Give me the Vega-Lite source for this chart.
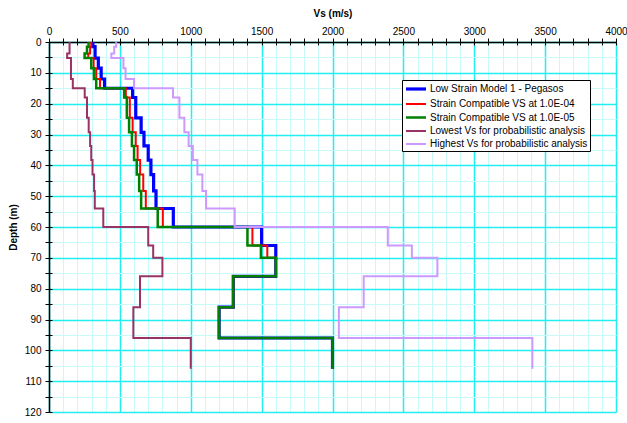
{
  "$schema": "https://vega.github.io/schema/vega-lite/v6.json",
  "width": 567,
  "height": 370,
  "autosize": {"type": "none"},
  "padding": {"left": 49, "top": 42, "right": 11, "bottom": 11},
  "background": "white",
  "config": {"view": {"stroke": null}, "font": "Liberation Sans"},
  "data": {
    "values": [
      {"profile": "Low Strain Model 1 - Pegasos", "depth": 0, "vs": 310},
      {"profile": "Low Strain Model 1 - Pegasos", "depth": 1.5, "vs": 325},
      {"profile": "Low Strain Model 1 - Pegasos", "depth": 5.2, "vs": 348},
      {"profile": "Low Strain Model 1 - Pegasos", "depth": 8.5, "vs": 368},
      {"profile": "Low Strain Model 1 - Pegasos", "depth": 12, "vs": 392},
      {"profile": "Low Strain Model 1 - Pegasos", "depth": 15, "vs": 590},
      {"profile": "Low Strain Model 1 - Pegasos", "depth": 18, "vs": 612},
      {"profile": "Low Strain Model 1 - Pegasos", "depth": 24.6, "vs": 650},
      {"profile": "Low Strain Model 1 - Pegasos", "depth": 29.3, "vs": 670},
      {"profile": "Low Strain Model 1 - Pegasos", "depth": 33.7, "vs": 700},
      {"profile": "Low Strain Model 1 - Pegasos", "depth": 38.3, "vs": 719},
      {"profile": "Low Strain Model 1 - Pegasos", "depth": 43, "vs": 738},
      {"profile": "Low Strain Model 1 - Pegasos", "depth": 48.3, "vs": 755},
      {"profile": "Low Strain Model 1 - Pegasos", "depth": 54, "vs": 877},
      {"profile": "Low Strain Model 1 - Pegasos", "depth": 60, "vs": 1500},
      {"profile": "Low Strain Model 1 - Pegasos", "depth": 66, "vs": 1600},
      {"profile": "Low Strain Model 1 - Pegasos", "depth": 76, "vs": 1300},
      {"profile": "Low Strain Model 1 - Pegasos", "depth": 86, "vs": 1200},
      {"profile": "Low Strain Model 1 - Pegasos", "depth": 96, "vs": 2000},
      {"profile": "Low Strain Model 1 - Pegasos", "depth": 106, "vs": 2000},

      {"profile": "Strain Compatible VS at 1.0E-04", "depth": 0, "vs": 298},
      {"profile": "Strain Compatible VS at 1.0E-04", "depth": 1.5, "vs": 290},
      {"profile": "Strain Compatible VS at 1.0E-04", "depth": 3.7, "vs": 277},
      {"profile": "Strain Compatible VS at 1.0E-04", "depth": 5.2, "vs": 315},
      {"profile": "Strain Compatible VS at 1.0E-04", "depth": 8.5, "vs": 333},
      {"profile": "Strain Compatible VS at 1.0E-04", "depth": 12, "vs": 360},
      {"profile": "Strain Compatible VS at 1.0E-04", "depth": 15, "vs": 542},
      {"profile": "Strain Compatible VS at 1.0E-04", "depth": 18, "vs": 570},
      {"profile": "Strain Compatible VS at 1.0E-04", "depth": 24.6, "vs": 590},
      {"profile": "Strain Compatible VS at 1.0E-04", "depth": 29.3, "vs": 612},
      {"profile": "Strain Compatible VS at 1.0E-04", "depth": 33.7, "vs": 625},
      {"profile": "Strain Compatible VS at 1.0E-04", "depth": 38.3, "vs": 643},
      {"profile": "Strain Compatible VS at 1.0E-04", "depth": 43, "vs": 665},
      {"profile": "Strain Compatible VS at 1.0E-04", "depth": 48.3, "vs": 683},
      {"profile": "Strain Compatible VS at 1.0E-04", "depth": 54, "vs": 803},
      {"profile": "Strain Compatible VS at 1.0E-04", "depth": 60, "vs": 1435},
      {"profile": "Strain Compatible VS at 1.0E-04", "depth": 66, "vs": 1540},
      {"profile": "Strain Compatible VS at 1.0E-04", "depth": 70, "vs": 1600},
      {"profile": "Strain Compatible VS at 1.0E-04", "depth": 76, "vs": 1300},
      {"profile": "Strain Compatible VS at 1.0E-04", "depth": 86, "vs": 1200},
      {"profile": "Strain Compatible VS at 1.0E-04", "depth": 96, "vs": 2000},
      {"profile": "Strain Compatible VS at 1.0E-04", "depth": 106, "vs": 2000},

      {"profile": "Strain Compatible VS at 1.0E-05", "depth": 0, "vs": 279},
      {"profile": "Strain Compatible VS at 1.0E-05", "depth": 1.5, "vs": 268},
      {"profile": "Strain Compatible VS at 1.0E-05", "depth": 3.7, "vs": 251},
      {"profile": "Strain Compatible VS at 1.0E-05", "depth": 5.2, "vs": 298},
      {"profile": "Strain Compatible VS at 1.0E-05", "depth": 8.5, "vs": 317},
      {"profile": "Strain Compatible VS at 1.0E-05", "depth": 12, "vs": 333},
      {"profile": "Strain Compatible VS at 1.0E-05", "depth": 15, "vs": 530},
      {"profile": "Strain Compatible VS at 1.0E-05", "depth": 18, "vs": 549},
      {"profile": "Strain Compatible VS at 1.0E-05", "depth": 24.6, "vs": 565},
      {"profile": "Strain Compatible VS at 1.0E-05", "depth": 29.3, "vs": 585},
      {"profile": "Strain Compatible VS at 1.0E-05", "depth": 33.7, "vs": 600},
      {"profile": "Strain Compatible VS at 1.0E-05", "depth": 38.3, "vs": 619},
      {"profile": "Strain Compatible VS at 1.0E-05", "depth": 43, "vs": 636},
      {"profile": "Strain Compatible VS at 1.0E-05", "depth": 48.3, "vs": 650},
      {"profile": "Strain Compatible VS at 1.0E-05", "depth": 54, "vs": 767},
      {"profile": "Strain Compatible VS at 1.0E-05", "depth": 60, "vs": 1400},
      {"profile": "Strain Compatible VS at 1.0E-05", "depth": 66, "vs": 1495},
      {"profile": "Strain Compatible VS at 1.0E-05", "depth": 70, "vs": 1600},
      {"profile": "Strain Compatible VS at 1.0E-05", "depth": 76, "vs": 1300},
      {"profile": "Strain Compatible VS at 1.0E-05", "depth": 86, "vs": 1200},
      {"profile": "Strain Compatible VS at 1.0E-05", "depth": 96, "vs": 2000},
      {"profile": "Strain Compatible VS at 1.0E-05", "depth": 106, "vs": 2000},

      {"profile": "Lowest Vs for probabilistic analysis", "depth": 0, "vs": 145},
      {"profile": "Lowest Vs for probabilistic analysis", "depth": 3.7, "vs": 128},
      {"profile": "Lowest Vs for probabilistic analysis", "depth": 5.2, "vs": 155},
      {"profile": "Lowest Vs for probabilistic analysis", "depth": 12, "vs": 168},
      {"profile": "Lowest Vs for probabilistic analysis", "depth": 15, "vs": 252},
      {"profile": "Lowest Vs for probabilistic analysis", "depth": 18, "vs": 268},
      {"profile": "Lowest Vs for probabilistic analysis", "depth": 24.6, "vs": 280},
      {"profile": "Lowest Vs for probabilistic analysis", "depth": 29.3, "vs": 290},
      {"profile": "Lowest Vs for probabilistic analysis", "depth": 33.7, "vs": 298},
      {"profile": "Lowest Vs for probabilistic analysis", "depth": 38.3, "vs": 307},
      {"profile": "Lowest Vs for probabilistic analysis", "depth": 43, "vs": 318},
      {"profile": "Lowest Vs for probabilistic analysis", "depth": 48.3, "vs": 323},
      {"profile": "Lowest Vs for probabilistic analysis", "depth": 54, "vs": 383},
      {"profile": "Lowest Vs for probabilistic analysis", "depth": 60, "vs": 700},
      {"profile": "Lowest Vs for probabilistic analysis", "depth": 66, "vs": 735},
      {"profile": "Lowest Vs for probabilistic analysis", "depth": 70, "vs": 800},
      {"profile": "Lowest Vs for probabilistic analysis", "depth": 76, "vs": 642},
      {"profile": "Lowest Vs for probabilistic analysis", "depth": 86, "vs": 595},
      {"profile": "Lowest Vs for probabilistic analysis", "depth": 96, "vs": 1000},
      {"profile": "Lowest Vs for probabilistic analysis", "depth": 106, "vs": 1000},

      {"profile": "Highest Vs for probabilistic analysis", "depth": 0, "vs": 474},
      {"profile": "Highest Vs for probabilistic analysis", "depth": 1.5, "vs": 460},
      {"profile": "Highest Vs for probabilistic analysis", "depth": 3.7, "vs": 440},
      {"profile": "Highest Vs for probabilistic analysis", "depth": 5.2, "vs": 525},
      {"profile": "Highest Vs for probabilistic analysis", "depth": 8.5, "vs": 540},
      {"profile": "Highest Vs for probabilistic analysis", "depth": 12, "vs": 600},
      {"profile": "Highest Vs for probabilistic analysis", "depth": 15, "vs": 875},
      {"profile": "Highest Vs for probabilistic analysis", "depth": 18, "vs": 920},
      {"profile": "Highest Vs for probabilistic analysis", "depth": 24.6, "vs": 955},
      {"profile": "Highest Vs for probabilistic analysis", "depth": 29.3, "vs": 985},
      {"profile": "Highest Vs for probabilistic analysis", "depth": 33.7, "vs": 1015},
      {"profile": "Highest Vs for probabilistic analysis", "depth": 38.3, "vs": 1047},
      {"profile": "Highest Vs for probabilistic analysis", "depth": 43, "vs": 1082},
      {"profile": "Highest Vs for probabilistic analysis", "depth": 48.3, "vs": 1108},
      {"profile": "Highest Vs for probabilistic analysis", "depth": 54, "vs": 1310},
      {"profile": "Highest Vs for probabilistic analysis", "depth": 60, "vs": 2390},
      {"profile": "Highest Vs for probabilistic analysis", "depth": 66, "vs": 2560},
      {"profile": "Highest Vs for probabilistic analysis", "depth": 70, "vs": 2740},
      {"profile": "Highest Vs for probabilistic analysis", "depth": 76, "vs": 2220},
      {"profile": "Highest Vs for probabilistic analysis", "depth": 86, "vs": 2045},
      {"profile": "Highest Vs for probabilistic analysis", "depth": 96, "vs": 3410},
      {"profile": "Highest Vs for probabilistic analysis", "depth": 106, "vs": 3410}
    ]
  },
  "layer": [
    {
      "mark": {"type": "point", "opacity": 0, "size": 0},
      "encoding": {
        "x": {
          "field": "vs",
          "type": "quantitative",
          "scale": {"domain": [0, 4000], "nice": false, "zero": false},
          "axis": {
            "orient": "top",
            "title": null,
            "tickCount": 40,
            "labels": false,
            "domain": false,
            "grid": false,
            "tickColor": "#000000",
            "tickSize": -3
          }
        },
        "y": {
          "field": "depth",
          "type": "quantitative",
          "scale": {"domain": [0, 120], "reverse": true, "nice": false},
          "axis": {
            "orient": "left",
            "title": null,
            "tickCount": 24,
            "labels": false,
            "domain": false,
            "grid": false,
            "tickColor": "#000000",
            "tickSize": -3
          }
        }
      }
    },
    {
      "mark": {"type": "line", "interpolate": "step-before", "strokeJoin": "miter", "strokeCap": "butt"},
      "encoding": {
        "x": {
          "field": "vs",
          "type": "quantitative",
          "scale": {"domain": [0, 4000], "nice": false, "zero": false},
          "axis": {
            "orient": "top",
            "title": "Vs (m/s)",
            "tickCount": 40,
            "format": "d",
            "labelExpr": "datum.value % 500 === 0 ? datum.label : ''",
            "labelOverlap": false,
            "labelFlush": false,
            "grid": true,
            "gridColor": {"condition": {"test": "datum.value % 500 === 0", "value": "#22efef"}, "value": "#c8fafa"},
            "gridWidth": {"condition": {"test": "datum.value % 500 === 0", "value": 1.5}, "value": 1},
            "domainColor": "#000000",
            "domainWidth": 1.5,
            "tickColor": "#000000",
            "tickSize": 4,
            "labelFont": "Liberation Sans",
            "labelFontSize": 10,
            "labelColor": "#000000",
            "labelPadding": 2,
            "titleFont": "Liberation Sans",
            "titleFontSize": 10,
            "titleFontWeight": "bold",
            "titleColor": "#000000",
            "titlePadding": 8
          }
        },
        "y": {
          "field": "depth",
          "type": "quantitative",
          "scale": {"domain": [0, 120], "reverse": true, "nice": false},
          "axis": {
            "orient": "left",
            "title": "Depth (m)",
            "tickCount": 24,
            "format": "d",
            "labelExpr": "datum.value % 10 === 0 ? datum.label : ''",
            "labelOverlap": false,
            "labelFlush": false,
            "grid": true,
            "gridColor": {"condition": {"test": "datum.value % 10 === 0", "value": "#22efef"}, "value": "#c8fafa"},
            "gridWidth": {"condition": {"test": "datum.value % 10 === 0", "value": 1.5}, "value": 1},
            "domainColor": "#000000",
            "domainWidth": 1.5,
            "tickColor": "#000000",
            "tickSize": 4,
            "labelFont": "Liberation Sans",
            "labelFontSize": 10,
            "labelColor": "#000000",
            "labelPadding": 4,
            "titleFont": "Liberation Sans",
            "titleFontSize": 10,
            "titleFontWeight": "bold",
            "titleColor": "#000000",
            "titlePadding": 6
          }
        },
        "color": {
          "field": "profile",
          "type": "nominal",
          "scale": {
            "domain": [
              "Low Strain Model 1 - Pegasos",
              "Strain Compatible VS at 1.0E-04",
              "Strain Compatible VS at 1.0E-05",
              "Lowest Vs for probabilistic analysis",
              "Highest Vs for probabilistic analysis"
            ],
            "range": ["#0000ff", "#ff0000", "#008000", "#993366", "#cc99ff"]
          },
          "legend": {
            "title": null,
            "orient": "none",
            "legendX": 353,
            "legendY": 38,
            "fillColor": "#ffffff",
            "strokeColor": "#000000",
            "padding": 2,
            "symbolType": "M-2,0H2",
            "symbolSize": 100,
            "symbolOffset": 5,
            "rowPadding": 2,
            "labelOffset": 7,
            "labelFont": "Liberation Sans",
            "labelFontSize": 10,
            "labelColor": "#000000",
            "labelLimit": 300
          }
        },
        "strokeWidth": {
          "field": "profile",
          "type": "nominal",
          "scale": {
            "type": "ordinal",
            "domain": [
              "Low Strain Model 1 - Pegasos",
              "Strain Compatible VS at 1.0E-04",
              "Strain Compatible VS at 1.0E-05",
              "Lowest Vs for probabilistic analysis",
              "Highest Vs for probabilistic analysis"
            ],
            "range": [3.2, 2, 2.5, 2, 2]
          },
          "legend": {
            "title": null,
            "orient": "none",
            "legendX": 353,
            "legendY": 38,
            "fillColor": "#ffffff",
            "strokeColor": "#000000",
            "padding": 2,
            "symbolType": "M-2,0H2",
            "symbolSize": 100,
            "symbolOffset": 5,
            "rowPadding": 2,
            "labelOffset": 7,
            "labelFont": "Liberation Sans",
            "labelFontSize": 10,
            "labelColor": "#000000",
            "labelLimit": 300
          }
        },
        "order": {"field": "depth", "type": "quantitative"}
      }
    }
  ],
  "resolve": {"axis": {"x": "independent", "y": "independent"}}
}
